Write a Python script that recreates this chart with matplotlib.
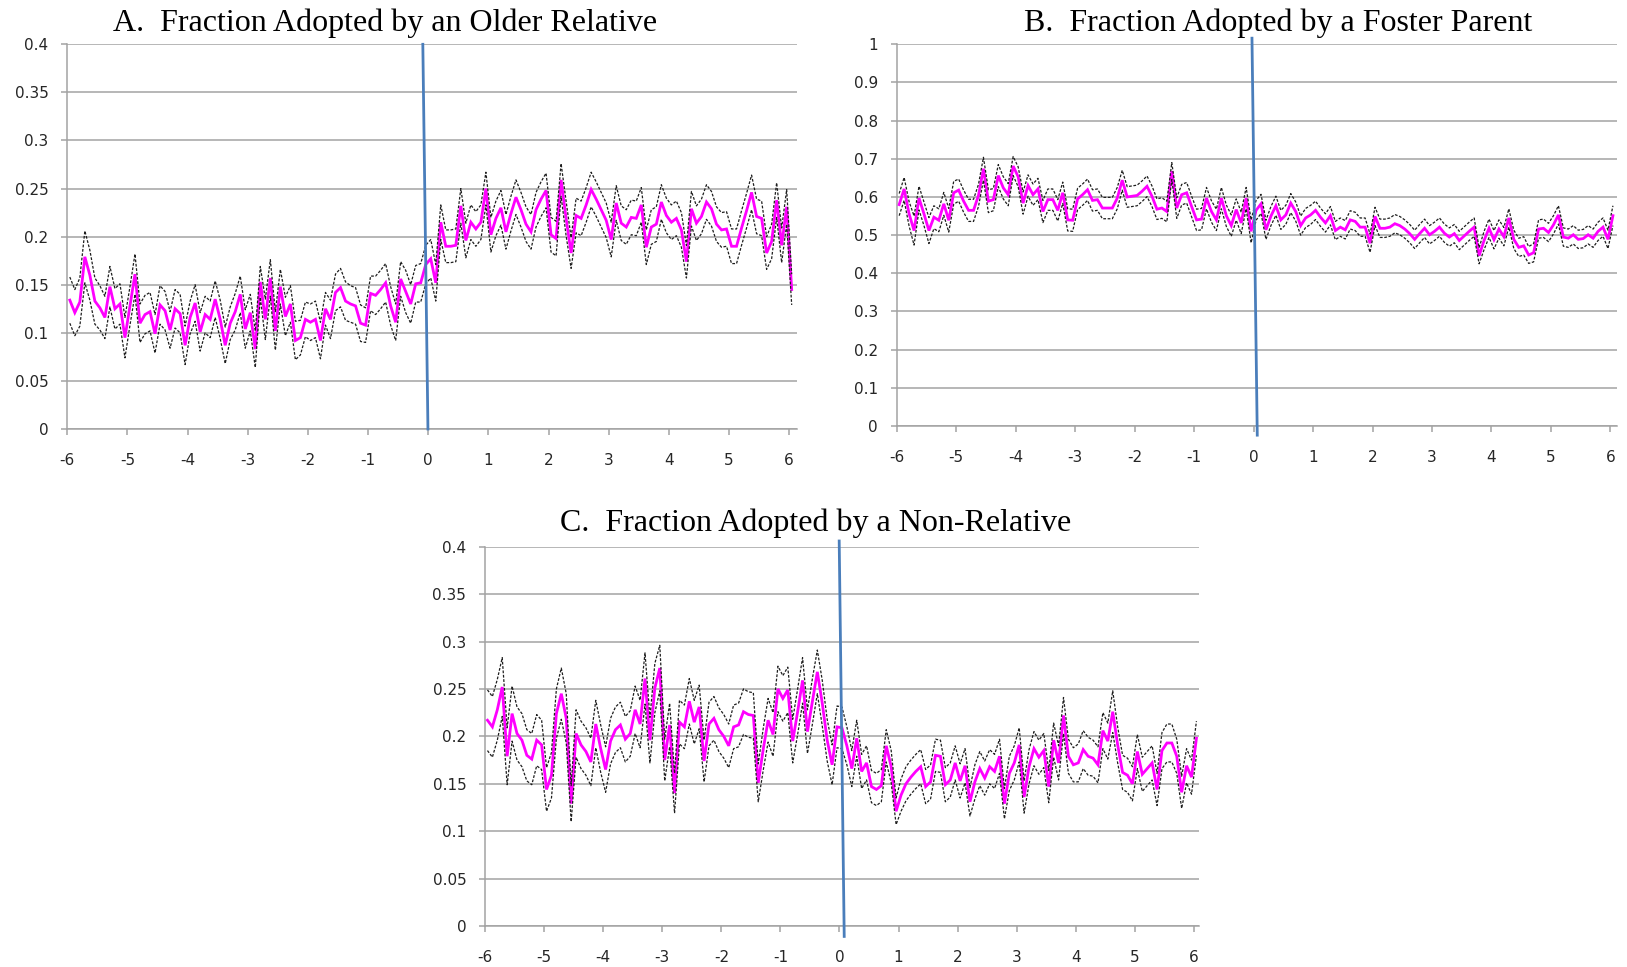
import matplotlib
matplotlib.use("Agg")
import matplotlib.pyplot as plt
import numpy as np

plt.rcParams['axes.unicode_minus'] = False

# month index 0..144, plotted at mid-month positions from -6 to 6 years
months = np.arange(145)

# ---------------- Panel A: older relative ----------------
A_mean = [
    0.134, 0.121, 0.132, 0.179, 0.160, 0.133, 0.126, 0.116, 0.148, 0.125, 0.130, 0.095,
    0.128, 0.161, 0.110, 0.119, 0.122, 0.099, 0.129, 0.123, 0.103, 0.125, 0.120, 0.087,
    0.116, 0.131, 0.101, 0.119, 0.114, 0.135, 0.114, 0.087, 0.110, 0.122, 0.140, 0.104,
    0.121, 0.083, 0.153, 0.114, 0.157, 0.102, 0.148, 0.117, 0.130, 0.092, 0.095, 0.114,
    0.111, 0.114, 0.092, 0.125, 0.114, 0.142, 0.147, 0.133, 0.130, 0.128, 0.110, 0.108,
    0.141, 0.139, 0.145, 0.152, 0.128, 0.111, 0.156, 0.143, 0.130, 0.151, 0.152, 0.171,
    0.177, 0.152, 0.215, 0.190, 0.190, 0.191, 0.232, 0.196, 0.215, 0.208, 0.215, 0.250,
    0.202, 0.219, 0.230, 0.205, 0.224, 0.241, 0.228, 0.213, 0.205, 0.228, 0.239, 0.248,
    0.202, 0.198, 0.259, 0.219, 0.183, 0.222, 0.219, 0.233, 0.249, 0.239, 0.228, 0.217,
    0.197, 0.235, 0.214, 0.210, 0.220, 0.219, 0.233, 0.189, 0.210, 0.213, 0.236, 0.222,
    0.215, 0.219, 0.207, 0.174, 0.229, 0.214, 0.221, 0.236, 0.229, 0.213, 0.207, 0.208,
    0.190, 0.190, 0.209, 0.227, 0.246, 0.221, 0.219, 0.183, 0.195, 0.238, 0.191, 0.231,
    0.145,
]
# half width of the confidence band, in thousandths
A_hw = [
    24, 24, 25, 27, 26, 24, 23, 22, 21, 21, 21, 21,
    20, 21, 20, 20, 20, 20, 20, 20, 19, 20, 20, 20,
    17, 19, 20, 19, 19, 19, 20, 19, 17, 19, 19, 20,
    19, 19, 16, 21, 19, 20, 18, 20, 19, 20, 18, 18,
    19, 19, 19, 17, 20, 19, 20, 20, 19, 19, 19, 18,
    18, 20, 20, 20, 20, 19, 18, 22, 20, 19, 20, 20,
    20, 19, 18, 17, 17, 17, 18, 18, 18, 18, 18, 17,
    18, 18, 18, 18, 18, 18, 18, 18, 18, 18, 18, 18,
    18, 18, 17, 18, 16, 18, 18, 18, 18, 18, 18, 18,
    18, 18, 18, 18, 18, 18, 18, 18, 18, 18, 18, 18,
    18, 18, 18, 17, 18, 18, 18, 18, 18, 18, 18, 18,
    18, 18, 18, 18, 18, 18, 18, 17, 18, 18, 18, 18,
    16,
]

# ---------------- Panel B: foster parent ----------------
B_mean = [
    0.580, 0.621, 0.556, 0.512, 0.597, 0.556, 0.512, 0.547, 0.539, 0.582, 0.539, 0.611,
    0.618, 0.589, 0.565, 0.565, 0.604, 0.674, 0.589, 0.593, 0.656, 0.624, 0.606, 0.681,
    0.653, 0.584, 0.630, 0.606, 0.621, 0.562, 0.593, 0.593, 0.565, 0.611, 0.540, 0.539,
    0.595, 0.606, 0.619, 0.591, 0.593, 0.571, 0.571, 0.571, 0.597, 0.644, 0.600, 0.602,
    0.604, 0.615, 0.628, 0.602, 0.568, 0.571, 0.562, 0.668, 0.571, 0.606, 0.611, 0.575,
    0.540, 0.542, 0.597, 0.562, 0.540, 0.597, 0.551, 0.525, 0.567, 0.532, 0.597, 0.510,
    0.565, 0.582, 0.514, 0.550, 0.577, 0.540, 0.553, 0.584, 0.562, 0.525, 0.545, 0.553,
    0.565, 0.547, 0.532, 0.551, 0.512, 0.521, 0.514, 0.540, 0.536, 0.521, 0.521, 0.479,
    0.549, 0.518, 0.518, 0.521, 0.530, 0.525, 0.516, 0.504, 0.489, 0.504, 0.518, 0.501,
    0.510, 0.521, 0.505, 0.495, 0.504, 0.486, 0.498, 0.510, 0.521, 0.446, 0.486, 0.518,
    0.488, 0.516, 0.496, 0.545, 0.489, 0.468, 0.472, 0.448, 0.454, 0.516, 0.518, 0.507,
    0.527, 0.553, 0.495, 0.492, 0.501, 0.489, 0.491, 0.501, 0.492, 0.510, 0.521, 0.489,
    0.551,
]
B_hw = [
    29, 30, 32, 38, 31, 31, 34, 30, 30, 30, 31, 30,
    29, 29, 29, 29, 29, 30, 30, 29, 29, 29, 29, 25,
    26, 29, 28, 28, 28, 29, 28, 28, 28, 28, 29, 29,
    28, 28, 28, 28, 28, 28, 28, 28, 28, 26, 27, 27,
    27, 27, 27, 27, 27, 27, 27, 22, 27, 27, 27, 27,
    28, 28, 28, 28, 28, 28, 28, 28, 28, 28, 28, 30,
    26, 25, 25, 25, 25, 25, 25, 25, 25, 25, 25, 25,
    24, 24, 24, 24, 24, 24, 24, 24, 24, 24, 24, 24,
    24, 24, 24, 24, 24, 24, 24, 24, 24, 24, 24, 24,
    24, 24, 24, 24, 24, 24, 24, 24, 24, 21, 24, 24,
    24, 24, 24, 24, 24, 24, 24, 22, 24, 24, 24, 24,
    24, 24, 24, 24, 24, 24, 24, 24, 24, 24, 24, 24,
    26,
]

# ---------------- Panel C: non-relative ----------------
C_mean = [
    0.217, 0.210, 0.228, 0.252, 0.179, 0.224, 0.203, 0.196, 0.180, 0.176, 0.196, 0.191,
    0.144, 0.159, 0.224, 0.245, 0.219, 0.129, 0.203, 0.191, 0.184, 0.173, 0.213, 0.187,
    0.165, 0.195, 0.207, 0.212, 0.197, 0.203, 0.228, 0.213, 0.261, 0.196, 0.251, 0.272,
    0.175, 0.212, 0.140, 0.215, 0.210, 0.237, 0.215, 0.231, 0.174, 0.213, 0.219, 0.207,
    0.200, 0.190, 0.210, 0.212, 0.226, 0.223, 0.222, 0.151, 0.186, 0.217, 0.202, 0.250,
    0.240, 0.249, 0.195, 0.226, 0.259, 0.205, 0.237, 0.268, 0.235, 0.196, 0.170, 0.210,
    0.209, 0.190, 0.166, 0.198, 0.163, 0.172, 0.147, 0.144, 0.148, 0.190, 0.168, 0.121,
    0.138, 0.150, 0.157, 0.163, 0.168, 0.147, 0.152, 0.180, 0.179, 0.149, 0.154, 0.172,
    0.153, 0.169, 0.131, 0.152, 0.166, 0.156, 0.168, 0.163, 0.179, 0.129, 0.161, 0.172,
    0.191, 0.136, 0.168, 0.187, 0.178, 0.185, 0.147, 0.196, 0.172, 0.222, 0.179, 0.170,
    0.172, 0.186, 0.179, 0.177, 0.170, 0.206, 0.195, 0.226, 0.191, 0.162, 0.159, 0.150,
    0.184, 0.160, 0.166, 0.172, 0.144, 0.185, 0.193, 0.193, 0.179, 0.141, 0.169, 0.157,
    0.198,
]
C_hw = [
    32, 32, 32, 31, 30, 29, 28, 28, 27, 27, 27, 26,
    23, 24, 26, 27, 26, 19, 25, 25, 25, 25, 25, 25,
    24, 24, 24, 24, 24, 24, 25, 25, 27, 24, 26, 24,
    22, 23, 21, 23, 23, 24, 23, 23, 22, 23, 23, 23,
    23, 23, 23, 23, 24, 24, 24, 20, 22, 23, 23, 24,
    24, 24, 23, 24, 24, 23, 24, 23, 24, 22, 21, 22,
    22, 20, 19, 19, 18, 18, 17, 17, 17, 17, 17, 14,
    17, 18, 18, 18, 18, 18, 18, 17, 17, 18, 18, 18,
    18, 18, 15, 18, 18, 18, 18, 18, 18, 16, 18, 18,
    18, 17, 18, 18, 18, 18, 17, 18, 18, 19, 18, 18,
    20, 20, 20, 19, 19, 19, 19, 22, 19, 18, 18, 18,
    18, 18, 18, 18, 17, 19, 20, 20, 18, 17, 18, 18,
    18,
]

titles = ["A.  Fraction Adopted by an Older Relative",
          "B.  Fraction Adopted by a Foster Parent",
          "C.  Fraction Adopted by a Non-Relative"]

x_ticks = [-6, -5, -4, -3, -2, -1, 0, 1, 2, 3, 4, 5, 6]
A_yticks = [0, 0.05, 0.1, 0.15, 0.2, 0.25, 0.3, 0.35, 0.4]
A_ylabels = ["0", "0.05", "0.1", "0.15", "0.2", "0.25", "0.3", "0.35", "0.4"]
B_yticks = [0, 0.1, 0.2, 0.3, 0.4, 0.5, 0.6, 0.7, 0.8, 0.9, 1.0]
B_ylabels = ["0", "0.1", "0.2", "0.3", "0.4", "0.5", "0.6", "0.7", "0.8", "0.9", "1"]

# the hand-drawn cutoff line at 0 (slightly slanted), endpoints in data units
A_cut_x, A_cut_y = [-0.09, -0.005], [0.4, 0.0]
B_cut_x, B_cut_y = [-0.027, 0.062], [1.016, -0.024]
C_cut_x, C_cut_y = [-0.005, 0.08], [0.406, -0.011]

W, H = 1627, 967
fig = plt.figure(figsize=(W / 100, H / 100), dpi=100)

GRID = '#a3a3a3'
TXT = '#262626'


def panel(rect_px, xmax, ymax, yticks, ylabels, mean, hw, cut_x, cut_y):
    left, top, right, bottom = rect_px
    ax = fig.add_axes([left / W, 1 - bottom / H, (right - left) / W, (bottom - top) / H])
    x = -6 + (months + 0.5) / 12.0
    m = np.array(mean)
    h = np.array(hw) / 1000.0
    ax.plot(x, m, color='#ff00ff', lw=2.0, zorder=3, solid_joinstyle='miter')
    ax.plot(x, m + h, color='#1e1e1e', lw=0.9, ls=(0, (2.2, 1.3)), zorder=4)
    ax.plot(x, m - h, color='#1e1e1e', lw=0.9, ls=(0, (2.2, 1.3)), zorder=4)
    ax.plot(cut_x, cut_y, color='#4a7ebb', lw=2.0, zorder=5, clip_on=False)

    ax.set_xlim(-6, xmax)
    ax.set_ylim(0, ymax)
    ax.set_xticks(x_ticks)
    ax.set_xticklabels([str(t) for t in x_ticks])
    ax.set_yticks(yticks)
    ax.set_yticklabels(ylabels)
    ax.grid(axis='y', color=GRID, lw=1.1)
    ax.set_axisbelow(True)
    for s in ['top', 'right']:
        ax.spines[s].set_visible(False)
    for s in ['left', 'bottom']:
        ax.spines[s].set_color(GRID)
        ax.spines[s].set_linewidth(1.1)
    ax.tick_params(axis='y', length=4, width=1.1, color=GRID, pad=9.5,
                   labelsize=11, labelcolor=TXT)
    ax.tick_params(axis='x', length=4, width=1.1, color=GRID, pad=13.5,
                   labelsize=11, labelcolor=TXT)
    return ax


panel((67.3, 44.3, 797, 429), 6.13, 0.4, A_yticks, A_ylabels, A_mean, A_hw, A_cut_x, A_cut_y)
panel((896.7, 44.3, 1617, 426), 6.11, 1.0, B_yticks, B_ylabels, B_mean, B_hw, B_cut_x, B_cut_y)
panel((485, 546.7, 1199, 926), 6.085, 0.4, A_yticks, A_ylabels, C_mean, C_hw, C_cut_x, C_cut_y)

title_pos = [(384.7, 30.7), (1278.3, 30.7), (815.3, 530.7)]
for t, (tx, ty) in zip(titles, title_pos):
    fig.text(tx / W, 1 - ty / H, t, family='Liberation Serif', fontsize=23,
             ha='center', va='baseline', color='black')

fig.savefig('out.png', dpi=100)
